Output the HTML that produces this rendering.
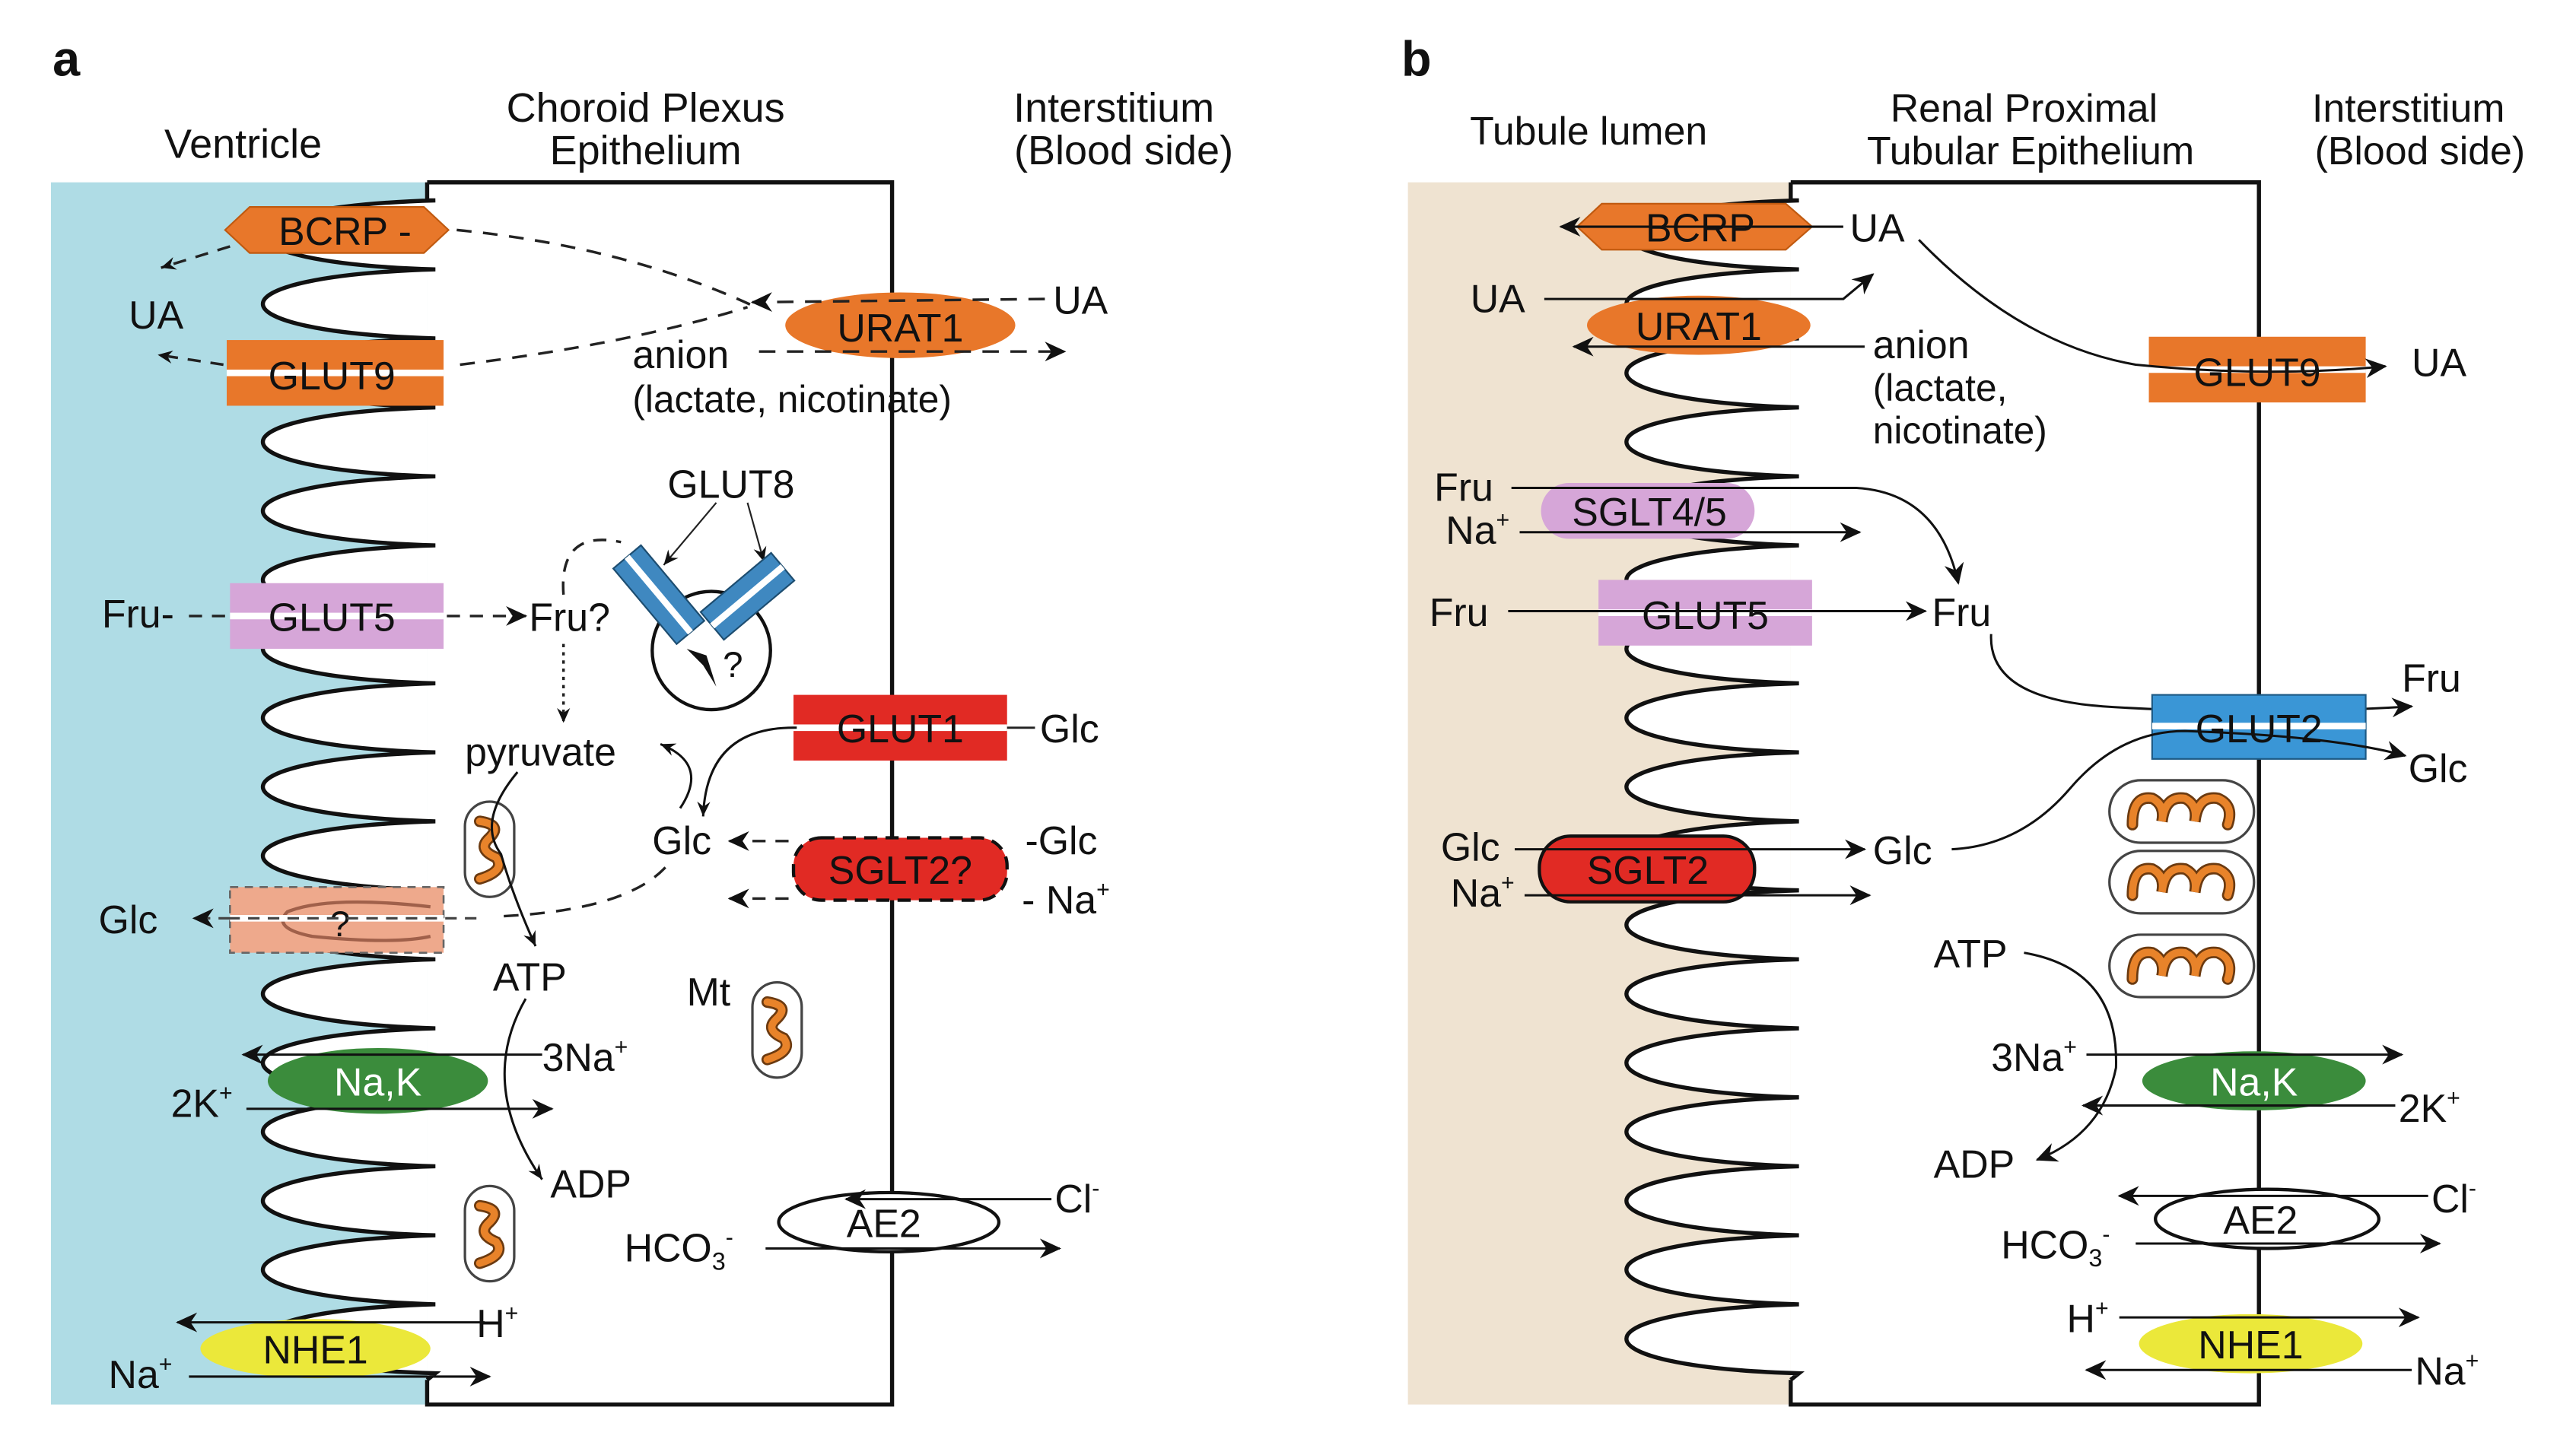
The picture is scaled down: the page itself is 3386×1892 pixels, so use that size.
<!DOCTYPE html>
<html><head><meta charset="utf-8"><style>
html,body{margin:0;padding:0;background:#fff;}
svg{display:block;}
text{font-family:"Liberation Sans",Arial,sans-serif;fill:#111;}
</style></head><body>
<svg width="3386" height="1892" viewBox="0 0 1568 876" preserveAspectRatio="none" xmlns="http://www.w3.org/2000/svg">
<defs>
<marker id="ah" markerWidth="14" markerHeight="12" refX="12" refY="6" orient="auto" markerUnits="userSpaceOnUse">
<path d="M0,0 L13,6 L0,12 L4,6 Z" fill="#111"/></marker>
<marker id="ahs" markerWidth="10" markerHeight="8" refX="9" refY="4" orient="auto" markerUnits="userSpaceOnUse">
<path d="M0,0 L9,4 L0,8 L3,4 Z" fill="#111"/></marker>
</defs>

<!-- ============ PANEL A ============ -->
<text x="32" y="46" font-size="30" font-weight="bold">a</text>
<text x="148" y="96" font-size="25" text-anchor="middle">Ventricle</text>
<text x="393" y="74" font-size="25" text-anchor="middle">Choroid Plexus</text>
<text x="393" y="100" font-size="25" text-anchor="middle">Epithelium</text>
<text x="678" y="74" font-size="25" text-anchor="middle">Interstitium</text>
<text x="684" y="100" font-size="25" text-anchor="middle">(Blood side)</text>

<rect x="31" y="111" width="230" height="744" fill="#afdce5"/>
<path fill="#fff" stroke="none" d="M260,111 L543,111 L543,855 L260,855 Z"/>
<path d="M260,111 L543,111 L543,855 L260,855 L260,840" fill="none" stroke="#111" stroke-width="2.5"/>
<path d="M260,111 L260,122 L265,122 c-140,4 -140,38 0,42 c-140,4 -140,38 0,42 c-140,4 -140,38 0,42 c-140,4 -140,38 0,42 c-140,4 -140,38 0,42 c-140,4 -140,38 0,42 c-140,4 -140,38 0,42 c-140,4 -140,38 0,42 c-140,4 -140,38 0,42 c-140,4 -140,38 0,42 c-140,4 -140,38 0,42 c-140,4 -140,38 0,42 c-140,4 -140,38 0,42 c-140,4 -140,38 0,42 c-140,4 -140,38 0,42 c-140,4 -140,38 0,42 c-140,4 -140,38 0,42 L260,840" fill="#fff" stroke="#111" stroke-width="2.5"/>

<!-- BCRP -->
<polygon points="137,140 152,126 258,126 273,140 258,154 152,154" fill="#e8772a" stroke="#c05a10" stroke-width="1"/>
<text x="210" y="149" font-size="24" text-anchor="middle">BCRP -</text>
<path d="M278,140 Q380,150 458,186" fill="none" stroke="#222" stroke-width="1.6" stroke-dasharray="9,7"/>
<path d="M140,150 L98,163" fill="none" stroke="#222" stroke-width="1.6" stroke-dasharray="8,6" marker-end="url(#ahs)"/>
<text x="95" y="200" font-size="24" text-anchor="middle">UA</text>
<!-- GLUT9 -->
<rect x="138" y="207" width="132" height="40" fill="#e8772a"/>
<rect x="138" y="225" width="132" height="4" fill="#fff"/>
<text x="202" y="237" font-size="24" text-anchor="middle">GLUT9</text>
<path d="M136,222 L96,216" fill="none" stroke="#222" stroke-width="1.6" stroke-dasharray="8,6" marker-end="url(#ahs)"/>
<path d="M280,222 Q380,210 455,187" fill="none" stroke="#222" stroke-width="1.6" stroke-dasharray="9,7"/>
<!-- URAT1 -->
<ellipse cx="548" cy="198" rx="70" ry="20" fill="#e8772a"/>
<text x="548" y="208" font-size="24" text-anchor="middle">URAT1</text>
<path d="M636,182 L458,184" fill="none" stroke="#222" stroke-width="1.6" stroke-dasharray="10,7" marker-end="url(#ah)"/>
<text x="641" y="191" font-size="24">UA</text>
<path d="M462,214 L648,214" fill="none" stroke="#222" stroke-width="1.6" stroke-dasharray="10,7" marker-end="url(#ah)"/>
<text x="385" y="224" font-size="24">anion</text>
<text x="385" y="251" font-size="23">(lactate, nicotinate)</text>

<!-- GLUT8 -->
<text x="445" y="303" font-size="24" text-anchor="middle">GLUT8</text>
<path d="M436,306 L404,344" fill="none" stroke="#222" stroke-width="1" marker-end="url(#ahs)"/>
<path d="M455,306 L465,342" fill="none" stroke="#222" stroke-width="1" marker-end="url(#ahs)"/>
<circle cx="433" cy="396" r="36" fill="#fff" stroke="#111" stroke-width="2"/>
<g transform="translate(401,362) rotate(50)"><rect x="-30" y="-11" width="60" height="22" fill="#3f88c0" stroke="#1d4d70" stroke-width="1"/><rect x="-30" y="-2" width="60" height="4" fill="#fff"/></g>
<g transform="translate(455,363) rotate(-40)"><rect x="-28" y="-11" width="56" height="22" fill="#3f88c0" stroke="#1d4d70" stroke-width="1"/><rect x="-28" y="-2" width="56" height="4" fill="#fff"/></g>
<path d="M428,405 L418,395 L430,399 L436,418 Z" fill="#111"/>
<text x="440" y="412" font-size="22">?</text>
<path d="M343,362 Q340,322 378,330" fill="none" stroke="#222" stroke-width="1.6" stroke-dasharray="8,6"/>

<!-- GLUT5 -->
<rect x="140" y="355" width="130" height="40" fill="#d6a6d8"/>
<rect x="140" y="373" width="130" height="4" fill="#fff"/>
<text x="202" y="384" font-size="24" text-anchor="middle">GLUT5</text>
<text x="62" y="382" font-size="24">Fru-</text>
<path d="M115,375 L140,375 M272,375 L320,375" fill="none" stroke="#222" stroke-width="1.6" stroke-dasharray="8,6" marker-end="url(#ah)"/>
<text x="322" y="384" font-size="24">Fru?</text>
<path d="M343,392 L343,440" fill="none" stroke="#222" stroke-width="1.6" stroke-dasharray="2,3" marker-end="url(#ahs)"/>

<text x="283" y="466" font-size="24">pyruvate</text>
<!-- GLUT1 -->
<rect x="483" y="423" width="130" height="40" fill="#e12a24"/>
<rect x="483" y="441" width="130" height="4" fill="#fff"/>
<text x="548" y="452" font-size="24" text-anchor="middle">GLUT1</text>
<path d="M613,443 L630,443" stroke="#222" stroke-width="1.3"/>
<text x="633" y="452" font-size="24">Glc</text>
<path d="M485,443 Q430,442 428,497" fill="none" stroke="#111" stroke-width="1.4" marker-end="url(#ahs)"/>
<path d="M414,492 Q432,465 402,453" fill="none" stroke="#111" stroke-width="1.4" marker-end="url(#ahs)"/>
<text x="397" y="520" font-size="24">Glc</text>
<!-- SGLT2? -->
<rect x="483" y="510" width="130" height="38" rx="17" fill="#e12a24" stroke="#111" stroke-width="2" stroke-dasharray="8,5"/>
<text x="548" y="538" font-size="24" text-anchor="middle">SGLT2?</text>
<path d="M480,512 L444,512" fill="none" stroke="#222" stroke-width="1.6" stroke-dasharray="8,6" marker-end="url(#ah)"/>
<path d="M480,547 L444,547" fill="none" stroke="#222" stroke-width="1.6" stroke-dasharray="8,6" marker-end="url(#ah)"/>
<text x="624" y="520" font-size="24">-Glc</text>
<text x="622" y="556" font-size="24">- Na<tspan font-size="14" dy="-10">+</tspan></text>
<path d="M405,528 Q380,555 300,558" fill="none" stroke="#222" stroke-width="1.6" stroke-dasharray="9,7"/>

<!-- ? box -->
<rect x="140" y="540" width="130" height="40" fill="#eea98c" stroke="#666" stroke-width="1.2" stroke-dasharray="5,4"/>
<path d="M262,552 Q200,545 175,555 Q165,565 190,570 Q240,575 262,570" fill="none" stroke="#a0604a" stroke-width="2"/>
<rect x="140" y="557" width="130" height="4" fill="#fff"/>
<text x="207" y="570" font-size="22" text-anchor="middle">?</text>
<path d="M290,559 L140,559 M140,559 L118,559" fill="none" stroke="#444" stroke-width="1.5" stroke-dasharray="7,5" marker-end="url(#ah)"/>
<text x="60" y="568" font-size="24">Glc</text>

<!-- mitochondria a -->
<g fill="#fff" stroke="#444" stroke-width="1.5">
<rect x="283" y="488" width="30" height="58" rx="15"/>
<rect x="458" y="598" width="30" height="58" rx="15"/>
<rect x="283" y="722" width="30" height="58" rx="15"/>
</g>
<g fill="none" stroke="#6b3a10" stroke-width="7" stroke-linecap="round">
<path d="M292,500 Q306,502 298,510 Q290,517 302,522 Q308,530 292,535"/>
<path d="M467,610 Q481,612 473,620 Q465,627 477,632 Q483,640 467,645"/>
<path d="M292,734 Q306,736 298,744 Q290,751 302,756 Q308,764 292,769"/>
</g>
<g fill="none" stroke="#e8832a" stroke-width="4.5" stroke-linecap="round">
<path d="M292,500 Q306,502 298,510 Q290,517 302,522 Q308,530 292,535"/>
<path d="M467,610 Q481,612 473,620 Q465,627 477,632 Q483,640 467,645"/>
<path d="M292,734 Q306,736 298,744 Q290,751 302,756 Q308,764 292,769"/>
</g>
<path d="M315,470 Q290,500 305,520 Q312,545 326,576" fill="none" stroke="#111" stroke-width="1.4" marker-end="url(#ahs)"/>
<text x="300" y="603" font-size="24">ATP</text>
<text x="418" y="612" font-size="24">Mt</text>
<path d="M320,608 Q290,660 330,718" fill="none" stroke="#111" stroke-width="1.4" marker-end="url(#ahs)"/>
<text x="335" y="729" font-size="24">ADP</text>

<!-- Na,K -->
<ellipse cx="230" cy="658" rx="67" ry="20" fill="#3b8c3c"/>
<text x="230" y="667" font-size="24" text-anchor="middle" style="fill:#fff">Na,K</text>
<path d="M330,642 L148,642" fill="none" stroke="#111" stroke-width="1.4" marker-end="url(#ah)"/>
<text x="330" y="652" font-size="24">3Na<tspan font-size="14" dy="-10">+</tspan></text>
<path d="M150,675 L336,675" fill="none" stroke="#111" stroke-width="1.4" marker-end="url(#ah)"/>
<text x="104" y="680" font-size="24">2K<tspan font-size="14" dy="-10">+</tspan></text>

<!-- AE2 -->
<ellipse cx="541" cy="744" rx="67" ry="18" fill="#fff" stroke="#111" stroke-width="2"/>
<text x="538" y="753" font-size="24" text-anchor="middle">AE2</text>
<path d="M640,730 L515,730" fill="none" stroke="#111" stroke-width="1.4" marker-end="url(#ah)"/>
<text x="642" y="738" font-size="24">Cl<tspan font-size="14" dy="-10">-</tspan></text>
<path d="M466,760 L645,760" fill="none" stroke="#111" stroke-width="1.4" marker-end="url(#ah)"/>
<text x="380" y="768" font-size="24">HCO<tspan font-size="15" dy="5">3</tspan><tspan font-size="14" dy="-15">-</tspan></text>

<!-- NHE1 -->
<ellipse cx="192" cy="821" rx="70" ry="18" fill="#ebe83a"/>
<text x="192" y="830" font-size="24" text-anchor="middle">NHE1</text>
<path d="M295,805 L108,805" fill="none" stroke="#111" stroke-width="1.4" marker-end="url(#ah)"/>
<text x="290" y="814" font-size="24">H<tspan font-size="14" dy="-10">+</tspan></text>
<path d="M115,838 L298,838" fill="none" stroke="#111" stroke-width="1.4" marker-end="url(#ah)"/>
<text x="66" y="845" font-size="24">Na<tspan font-size="14" dy="-10">+</tspan></text>

<!-- ============ PANEL B ============ -->
<text x="853" y="46" font-size="30" font-weight="bold">b</text>
<text x="967" y="88" font-size="24" text-anchor="middle">Tubule lumen</text>
<text x="1232" y="74" font-size="24" text-anchor="middle">Renal Proximal</text>
<text x="1236" y="100" font-size="24" text-anchor="middle">Tubular Epithelium</text>
<text x="1466" y="74" font-size="24" text-anchor="middle">Interstitium</text>
<text x="1473" y="100" font-size="24" text-anchor="middle">(Blood side)</text>

<rect x="857" y="111" width="236" height="744" fill="#efe3d1"/>
<path d="M1090,111 L1375,111 L1375,855 L1090,855 Z" fill="#fff"/>
<path d="M1090,111 L1375,111 L1375,855 L1090,855 L1090,840" fill="none" stroke="#111" stroke-width="2.5"/>
<path d="M1090,111 L1090,122 L1095,122 c-140,4 -140,38 0,42 c-140,4 -140,38 0,42 c-140,4 -140,38 0,42 c-140,4 -140,38 0,42 c-140,4 -140,38 0,42 c-140,4 -140,38 0,42 c-140,4 -140,38 0,42 c-140,4 -140,38 0,42 c-140,4 -140,38 0,42 c-140,4 -140,38 0,42 c-140,4 -140,38 0,42 c-140,4 -140,38 0,42 c-140,4 -140,38 0,42 c-140,4 -140,38 0,42 c-140,4 -140,38 0,42 c-140,4 -140,38 0,42 c-140,4 -140,38 0,42 L1090,840" fill="#fff" stroke="#111" stroke-width="2.5"/>

<!-- BCRP b -->
<polygon points="960,138 975,124 1087,124 1103,138 1087,152 975,152" fill="#e8772a" stroke="#c05a10" stroke-width="1"/>
<text x="1035" y="147" font-size="24" text-anchor="middle">BCRP</text>
<path d="M1122,138 L950,138" fill="none" stroke="#111" stroke-width="1.4" marker-end="url(#ah)"/>
<text x="1126" y="147" font-size="24">UA</text>
<!-- URAT1 b -->
<ellipse cx="1034" cy="198" rx="68" ry="18" fill="#e8772a"/>
<text x="1034" y="207" font-size="24" text-anchor="middle">URAT1</text>
<text x="895" y="190" font-size="24">UA</text>
<path d="M940,182 L1122,182 L1140,167" fill="none" stroke="#111" stroke-width="1.4" marker-end="url(#ah)"/>
<path d="M1135,211 L958,211" fill="none" stroke="#111" stroke-width="1.4" marker-end="url(#ah)"/>
<text x="1140" y="218" font-size="24">anion</text>
<text x="1140" y="244" font-size="23">(lactate,</text>
<text x="1140" y="270" font-size="23">nicotinate)</text>
<!-- GLUT9 b -->
<rect x="1308" y="205" width="132" height="40" fill="#e8772a"/>
<rect x="1308" y="223" width="132" height="4" fill="#fff"/>
<text x="1374" y="235" font-size="24" text-anchor="middle">GLUT9</text>
<path d="M1168,146 Q1230,210 1300,222 Q1380,230 1452,223" fill="none" stroke="#111" stroke-width="1.4" marker-end="url(#ah)"/>
<text x="1468" y="229" font-size="24">UA</text>

<!-- SGLT4/5 -->
<rect x="938" y="294" width="130" height="34" rx="17" fill="#d6a6d8"/>
<text x="1004" y="320" font-size="24" text-anchor="middle">SGLT4/5</text>
<text x="873" y="305" font-size="24">Fru</text>
<path d="M920,297 L1130,297 Q1180,300 1192,355" fill="none" stroke="#111" stroke-width="1.4" marker-end="url(#ah)"/>
<text x="880" y="331" font-size="24">Na<tspan font-size="14" dy="-10">+</tspan></text>
<path d="M925,324 L1132,324" fill="none" stroke="#111" stroke-width="1.4" marker-end="url(#ah)"/>
<!-- GLUT5 b -->
<rect x="973" y="353" width="130" height="40" fill="#d6a6d8"/>
<rect x="973" y="371" width="130" height="4" fill="#fff"/>
<text x="1038" y="383" font-size="24" text-anchor="middle">GLUT5</text>
<text x="870" y="381" font-size="24">Fru</text>
<path d="M918,372 L1172,372" fill="none" stroke="#111" stroke-width="1.4" marker-end="url(#ah)"/>
<text x="1176" y="381" font-size="24">Fru</text>
<path d="M1212,386 Q1210,425 1280,430 Q1370,436 1468,430" fill="none" stroke="#111" stroke-width="1.4" marker-end="url(#ah)"/>
<!-- GLUT2 -->
<rect x="1310" y="423" width="130" height="39" fill="#3a96d6" stroke="#1d5a85" stroke-width="1"/>
<rect x="1310" y="440" width="130" height="4" fill="#fff"/>
<text x="1375" y="452" font-size="24" text-anchor="middle">GLUT2</text>
<text x="1462" y="421" font-size="24">Fru</text>
<path d="M1188,517 Q1230,515 1260,480 Q1290,445 1330,445 Q1420,448 1464,460" fill="none" stroke="#111" stroke-width="1.4" marker-end="url(#ah)"/>
<text x="1466" y="476" font-size="24">Glc</text>

<!-- SGLT2 b -->
<rect x="937" y="509" width="131" height="40" rx="19" fill="#e12a24" stroke="#111" stroke-width="2"/>
<text x="1003" y="538" font-size="24" text-anchor="middle">SGLT2</text>
<text x="877" y="524" font-size="24">Glc</text>
<path d="M922,517 L1135,517" fill="none" stroke="#111" stroke-width="1.4" marker-end="url(#ah)"/>
<text x="1140" y="526" font-size="24">Glc</text>
<text x="883" y="552" font-size="24">Na<tspan font-size="14" dy="-10">+</tspan></text>
<path d="M928,545 L1138,545" fill="none" stroke="#111" stroke-width="1.4" marker-end="url(#ah)"/>

<!-- mitochondria b -->
<g fill="#fff" stroke="#444" stroke-width="1.5">
<rect x="1284" y="475" width="88" height="38" rx="19"/>
<rect x="1284" y="518" width="88" height="38" rx="19"/>
<rect x="1284" y="569" width="88" height="38" rx="19"/>
</g>
<g fill="none" stroke="#6b3a10" stroke-width="7" stroke-linecap="round">
<path d="M1298,502 Q1298,484 1310,486 Q1318,490 1316,500 Q1318,484 1330,486 Q1338,490 1336,500 Q1338,484 1350,486 Q1360,490 1356,502"/>
<path d="M1298,545 Q1298,527 1310,529 Q1318,533 1316,543 Q1318,527 1330,529 Q1338,533 1336,543 Q1338,527 1350,529 Q1360,533 1356,545"/>
<path d="M1298,596 Q1298,578 1310,580 Q1318,584 1316,594 Q1318,578 1330,580 Q1338,584 1336,594 Q1338,578 1350,580 Q1360,584 1356,596"/>
</g>
<g fill="none" stroke="#e8832a" stroke-width="4.5" stroke-linecap="round">
<path d="M1298,502 Q1298,484 1310,486 Q1318,490 1316,500 Q1318,484 1330,486 Q1338,490 1336,500 Q1338,484 1350,486 Q1360,490 1356,502"/>
<path d="M1298,545 Q1298,527 1310,529 Q1318,533 1316,543 Q1318,527 1330,529 Q1338,533 1336,543 Q1338,527 1350,529 Q1360,533 1356,545"/>
<path d="M1298,596 Q1298,578 1310,580 Q1318,584 1316,594 Q1318,578 1330,580 Q1338,584 1336,594 Q1338,578 1350,580 Q1360,584 1356,596"/>
</g>

<text x="1177" y="589" font-size="24">ATP</text>
<path d="M1232,580 Q1290,590 1288,650 Q1280,690 1240,706" fill="none" stroke="#111" stroke-width="1.4" marker-end="url(#ah)"/>
<text x="1177" y="717" font-size="24">ADP</text>

<!-- Na,K b -->
<ellipse cx="1372" cy="658" rx="68" ry="18" fill="#3b8c3c"/>
<text x="1372" y="667" font-size="24" text-anchor="middle" style="fill:#fff">Na,K</text>
<text x="1212" y="652" font-size="24">3Na<tspan font-size="14" dy="-10">+</tspan></text>
<path d="M1270,642 L1462,642" fill="none" stroke="#111" stroke-width="1.4" marker-end="url(#ah)"/>
<path d="M1458,673 L1268,673" fill="none" stroke="#111" stroke-width="1.4" marker-end="url(#ah)"/>
<text x="1460" y="683" font-size="24">2K<tspan font-size="14" dy="-10">+</tspan></text>

<!-- AE2 b -->
<ellipse cx="1380" cy="742" rx="68" ry="18" fill="#fff" stroke="#111" stroke-width="2"/>
<text x="1376" y="751" font-size="24" text-anchor="middle">AE2</text>
<path d="M1478,728 L1290,728" fill="none" stroke="#111" stroke-width="1.4" marker-end="url(#ah)"/>
<text x="1480" y="738" font-size="24">Cl<tspan font-size="14" dy="-10">-</tspan></text>
<text x="1218" y="766" font-size="24">HCO<tspan font-size="15" dy="5">3</tspan><tspan font-size="14" dy="-15">-</tspan></text>
<path d="M1300,757 L1485,757" fill="none" stroke="#111" stroke-width="1.4" marker-end="url(#ah)"/>

<!-- NHE1 b -->
<ellipse cx="1370" cy="818" rx="68" ry="18" fill="#ebe83a"/>
<text x="1370" y="827" font-size="24" text-anchor="middle">NHE1</text>
<text x="1258" y="811" font-size="24">H<tspan font-size="14" dy="-10">+</tspan></text>
<path d="M1290,802 L1472,802" fill="none" stroke="#111" stroke-width="1.4" marker-end="url(#ah)"/>
<path d="M1468,834 L1270,834" fill="none" stroke="#111" stroke-width="1.4" marker-end="url(#ah)"/>
<text x="1470" y="843" font-size="24">Na<tspan font-size="14" dy="-10">+</tspan></text>
</svg>
</body></html>
